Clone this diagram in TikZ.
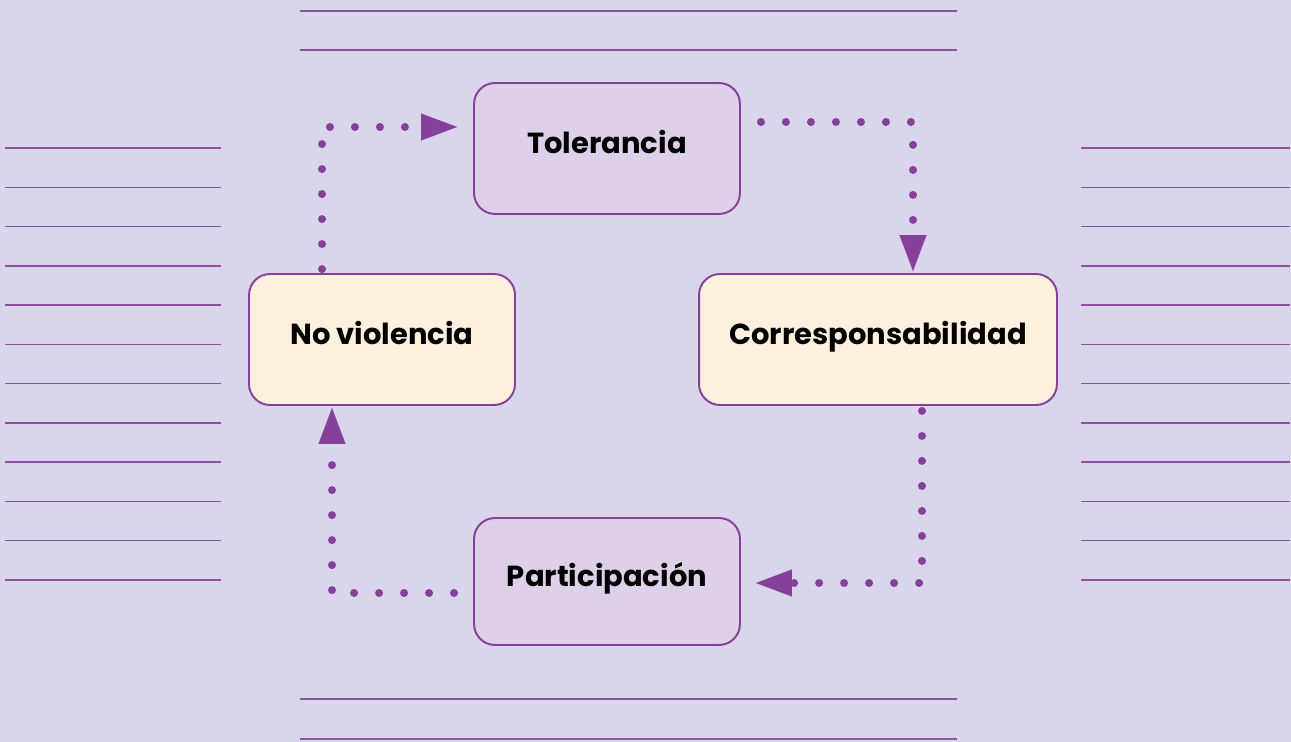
\documentclass[tikz,border=0pt]{standalone}
\usepackage{fontspec}
\setmainfont{Poppins}
\usetikzlibrary{arrows.meta}
\definecolor{fondo}{HTML}{D9D5EB}
\definecolor{morado}{HTML}{85409A}
\definecolor{linea}{HTML}{8E50A0}
\definecolor{lila}{HTML}{DED0E8}
\definecolor{crema}{HTML}{FEF0DE}
\tikzset{
  caja/.style={draw=morado, line width=1.1pt, rounded corners=0.42cm, minimum width=5.32cm, minimum height=2.62cm, text height=0.45cm, text depth=0.25cm, font=\fontsize{16.5}{20}\selectfont\bfseries},
  punteado/.style={draw=morado, line width=0.16cm, line cap=round, dash pattern=on 0pt off 0.5cm, -{Triangle[length=0.72cm, width=0.54cm, line width=0.1pt]}},
  renglon/.style={draw=linea, line width=0.85pt}
}
\begin{document}
\begin{tikzpicture}[x=0.02cm, y=-0.02cm]
            \useasboundingbox (0,0) rectangle (1291,742);
            \fill[fondo] (0,0) rectangle (1291,742);
            \foreach \y in {11,50,699,739} \draw[renglon] (300,\y) -- (957,\y);
            \foreach \i in {0,...,11} {
                \draw[renglon] (5,148+39.27*\i) -- (221,148+39.27*\i);
                \draw[renglon] (1081,148+39.27*\i) -- (1290,148+39.27*\i);
            }
            \node[caja, fill=lila] (tol) at (607,148.5) {Tolerancia};
            \node[caja, fill=crema] (nv) at (382,339.5) {No violencia};
            \node[caja, fill=crema, minimum width=7.16cm] (cor) at (878,339.5) {Corresponsabilidad};
            \node[caja, fill=lila, minimum height=2.54cm] (par) at (607,581.5) {Participación};
            \draw[punteado] ([xshift=-1.2cm,yshift=0.08cm]nv.north) |- ([xshift=-0.32cm,yshift=0.43cm]tol.west);
            \draw[punteado] ([xshift=0.4cm,yshift=0.53cm]tol.east) -| ([xshift=0.7cm,yshift=0.04cm]cor.north);
            \draw[punteado] ([xshift=0.88cm,yshift=-0.1cm]cor.south) |- ([xshift=0.3cm,yshift=-0.03cm]par.east);
            \draw[punteado] ([xshift=-0.38cm,yshift=-0.23cm]par.west) -| ([xshift=-1cm,yshift=-0.04cm]nv.south);
        \end{tikzpicture}
\end{document}
